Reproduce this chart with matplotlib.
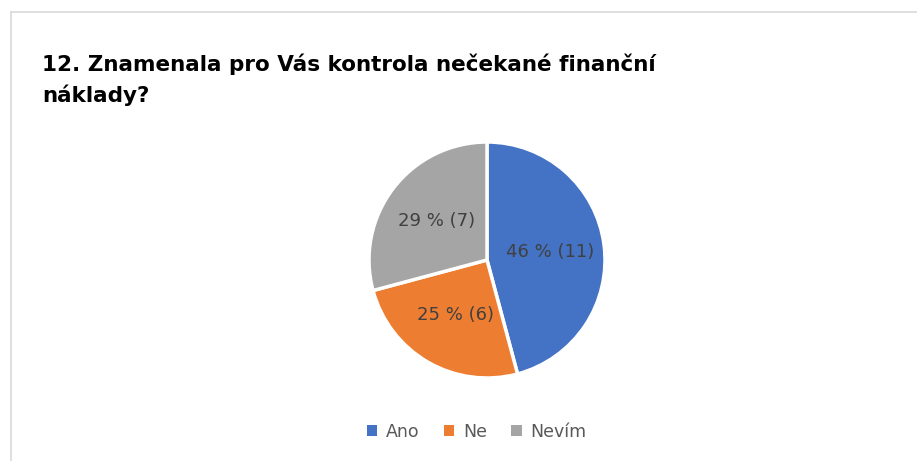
import matplotlib.pyplot as plt
from matplotlib.lines import Line2D
from matplotlib.patches import Patch

labels = ['Ano', 'Ne', 'Nevím']
counts = [11, 6, 7]
colors = ['#4472C4', '#ED7D31', '#A5A5A5']
title = '12. Znamenala pro Vás kontrola nečekané finanční\nnáklady?'

total = sum(counts)


def fmt(pct):
    n = int(round(pct * total / 100.0))
    return '{:.0f} % ({})'.format(pct, n)


fig = plt.figure(figsize=(9.17, 4.61), dpi=100)
fig.patch.set_facecolor('white')

# frame lines (top and left)
fig.add_artist(Line2D([11 / 917, 1], [1 - 12 / 461] * 2, color='#D9D9D9', lw=1.2))
fig.add_artist(Line2D([11 / 917] * 2, [0, 1 - 12 / 461], color='#D9D9D9', lw=1.2))

fig.text(42 / 917, 1 - 102 / 461, title, fontsize=15.5, fontweight='bold',
         color='black', ha='left', va='baseline', linespacing=1.55,
         family='DejaVu Sans')

ax = fig.add_axes([(487 - 118) / 917, (461 - 260 - 118) / 461, 236 / 917, 236 / 461])
wedges, texts, autotexts = ax.pie(
    counts, colors=colors, startangle=90, counterclock=False,
    autopct=fmt, pctdistance=0.54,
    wedgeprops=dict(edgecolor='white', linewidth=2.5),
    textprops=dict(fontsize=13, color='#404040'))
ax.set_xlim(-1.0, 1.0)
ax.set_ylim(-1.0, 1.0)
ax.set_aspect('equal')

handles = [Patch(facecolor=c, edgecolor='none') for c in colors]
fig.legend(handles, labels, loc='center', bbox_to_anchor=(0.52, 0.063),
           ncol=3, frameon=False, fontsize=12.5, handlelength=0.6,
           handleheight=0.6, handletextpad=0.5, columnspacing=1.4,
           labelcolor='#595959')

fig.savefig('out.png', dpi=100, facecolor='white')
